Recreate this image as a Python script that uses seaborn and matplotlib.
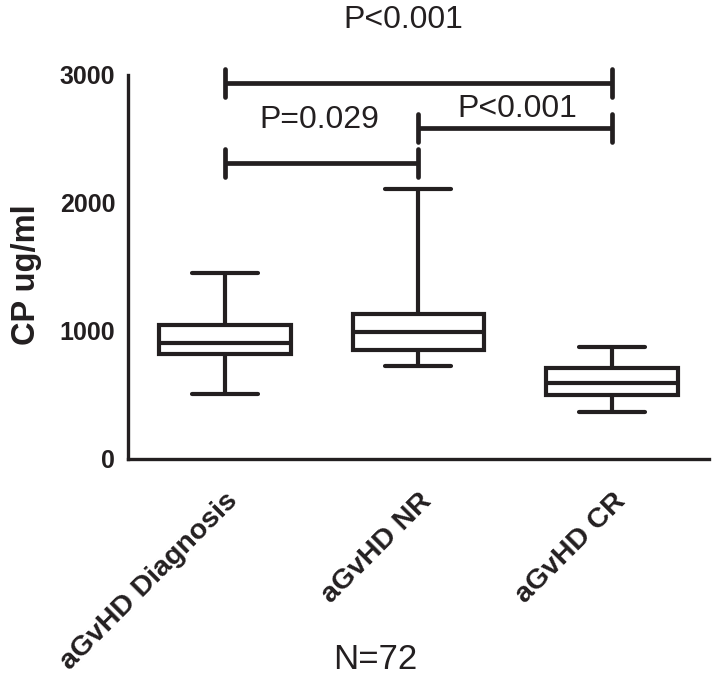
import matplotlib
matplotlib.use("Agg")
import matplotlib.pyplot as plt
import seaborn as sns
import pandas as pd

categories = ["aGvHD Diagnosis", "aGvHD NR", "aGvHD CR"]
# five-number summaries: whisker low, Q1, median, Q3, whisker high
diag_vals = [508, 820, 909, 1047, 1453]
nr_vals = [727, 852, 992, 1133, 2109]
cr_vals = [370, 500, 591, 713, 877]

yticks = [0, 1000, 2000, 3000]
ylabel = "CP ug/ml"
xlabel = "N=72"

# significance brackets: (group a, group b, bracket y, label, label position)
bracket_a = [0, 0, 1]
bracket_b = [2, 1, 2]
bracket_y = [2937, 2312, 2586]
bracket_text = ["P<0.001", "P=0.029", "P<0.001"]
text_x = [0.92, 0.49, 1.51]
text_y = [3430, 2648, 2734]

sns.set_style("white")
plt.rcParams["font.family"] = ["Liberation Sans", "DejaVu Sans"]

ink = "#231f20"

rows = []
for cat, vals in zip(categories, [diag_vals, nr_vals, cr_vals]):
    for v in vals:
        rows.append({"group": cat, "value": v})
df = pd.DataFrame(rows)

fig = plt.figure(figsize=(7.14, 6.81), dpi=100)
ax = fig.add_axes([0.179, 0.326, 0.814, 0.564])

lw = 3.0
sns.boxplot(data=df, x="group", y="value", order=categories, ax=ax,
            whis=(0, 100), width=0.68, color="white", linecolor=ink,
            linewidth=lw, showfliers=False,
            medianprops={"color": ink, "linewidth": lw},
            whiskerprops={"color": ink, "linewidth": lw},
            capprops={"color": ink, "linewidth": lw, "solid_capstyle": "round"},
            boxprops={"edgecolor": ink, "linewidth": lw})

ax.set_xlim(-0.5, 2.5)
ax.set_ylim(0, 3000)
ax.set_yticks(yticks)
ax.set_yticklabels([str(t) for t in yticks], fontsize=18, fontweight="bold", color=ink)
ax.set_xticks(range(len(categories)))
ax.set_xticklabels(categories, fontsize=20.5, fontweight="bold", color=ink,
                   rotation=45, ha="right", rotation_mode="anchor")
ax.set_ylabel(ylabel, fontsize=23.5, fontweight="bold", color=ink)
ax.yaxis.set_label_coords(-0.148, 0.48)
ax.set_xlabel(xlabel, fontsize=25, color=ink)
ax.xaxis.set_label_coords(0.425, -0.48)

for s in ["top", "right"]:
    ax.spines[s].set_visible(False)
for s in ["left", "bottom"]:
    ax.spines[s].set_linewidth(2.4)
    ax.spines[s].set_color(ink)
ax.tick_params(axis="both", direction="out", length=8, width=2.4, color=ink)
ax.tick_params(axis="y", pad=1)
ax.tick_params(axis="x", pad=13)
ax.grid(False)

tick_h = 110
for a, b, y, t, tx, ty in zip(bracket_a, bracket_b, bracket_y, bracket_text, text_x, text_y):
    ax.plot([a, b], [y, y], color=ink, lw=3.4, clip_on=False, solid_capstyle="butt")
    for xx in (a, b):
        ax.plot([xx, xx], [y - tick_h, y + tick_h], color=ink, lw=3.4,
                clip_on=False, solid_capstyle="round")
    ax.text(tx, ty, t, ha="center", va="center", fontsize=23,
            color=ink, clip_on=False)

fig.savefig("out.png", dpi=100)
